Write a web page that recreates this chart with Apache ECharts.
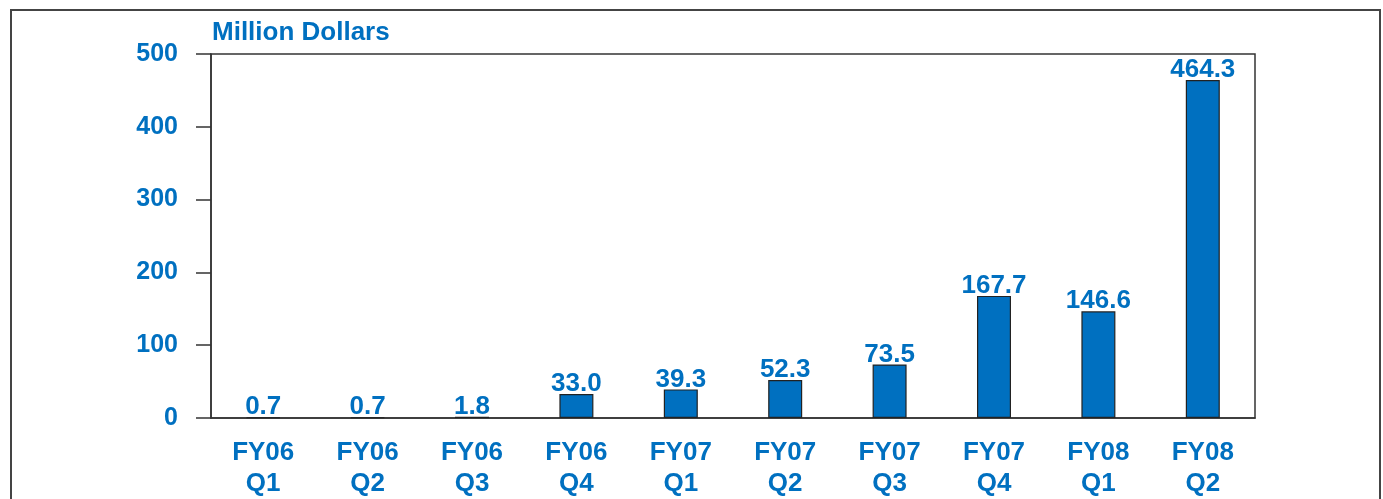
<!DOCTYPE html>
<html>
<head>
<meta charset="utf-8">
<script src="https://cdn.jsdelivr.net/npm/echarts@6/dist/echarts.min.js"></script>
<style>
html,body{margin:0;padding:0;background:#fff;}
#chart{width:1383px;height:499px;}
</style>
</head>
<body>
<div id="chart"></div>
<script>
var categories = ['FY06\nQ1','FY06\nQ2','FY06\nQ3','FY06\nQ4','FY07\nQ1','FY07\nQ2','FY07\nQ3','FY07\nQ4','FY08\nQ1','FY08\nQ2'];
var values = [0.7, 0.7, 1.8, 33.0, 39.3, 52.3, 73.5, 167.7, 146.6, 464.3];
var unitLabel = 'Million Dollars';

var blue = '#0070C0';
var font = 'Liberation Sans, Arial, sans-serif';
var chart = echarts.init(document.getElementById('chart'));
chart.setOption({
  animation: false,
  backgroundColor: '#fff',
  graphic: [{
    type: 'rect',
    shape: {x: 11, y: 10, width: 1369, height: 520},
    style: {fill: 'none', stroke: '#444', lineWidth: 2}
  }],
  title: {
    text: unitLabel,
    left: 207, top: 15,
    textStyle: {color: blue, fontSize: 26, fontWeight: 'bold', fontFamily: font}
  },
  grid: {
    left: 211, top: 54, right: 128, bottom: 77,
    show: true, borderColor: '#333', borderWidth: 1.5, backgroundColor: 'transparent'
  },
  xAxis: {
    type: 'category',
    data: categories,
    axisLine: {show: true, lineStyle: {color: '#333', width: 1.5}},
    axisTick: {show: false},
    axisLabel: {
      color: blue, fontSize: 26, fontWeight: 'bold', fontFamily: font,
      lineHeight: 31, margin: 19, interval: 0
    }
  },
  yAxis: {
    type: 'value',
    min: 0, max: 500, interval: 100,
    splitLine: {show: false},
    axisLine: {show: true, lineStyle: {color: '#333', width: 1.5}},
    axisTick: {show: true, inside: false, length: 15, lineStyle: {color: '#333', width: 1.5}},
    axisLabel: {
      color: blue, fontSize: 25, fontWeight: 'bold', fontFamily: font, margin: 33,
      padding: [6, 0, 0, 0]
    }
  },
  series: [{
    type: 'bar',
    data: values,
    barWidth: 34,
    itemStyle: {color: blue, borderColor: '#222', borderWidth: 1.2},
    label: {
      show: true, position: 'top', distance: -3,
      color: blue, fontSize: 26, fontWeight: 'bold', fontFamily: font,
      formatter: function (p) { return p.value.toFixed(1); }
    }
  }]
});
</script>
</body>
</html>
